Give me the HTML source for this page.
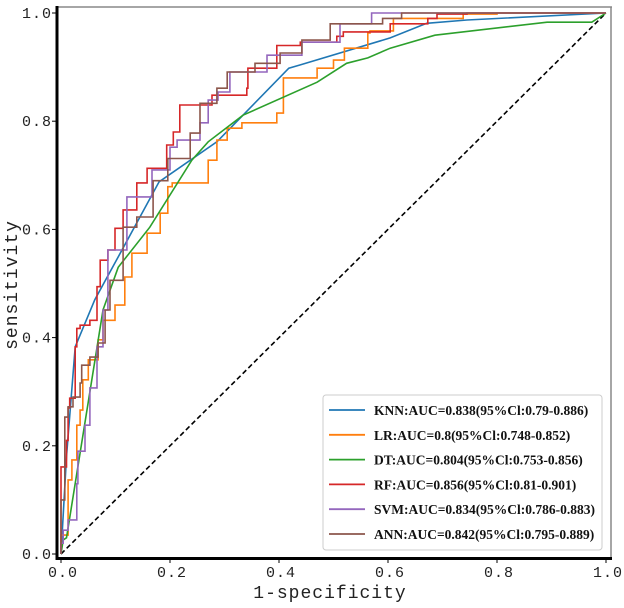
<!DOCTYPE html>
<html><head><meta charset="utf-8"><style>
html,body{margin:0;padding:0;background:#fff;}
svg{display:block;}
.tk{font-family:"Liberation Mono",monospace;font-size:15px;fill:#222;letter-spacing:1px;}
.lg{font-family:"Liberation Serif",serif;font-size:13.5px;font-weight:bold;fill:#111;}
</style></head><body>
<svg id="chart" width="624" height="608" viewBox="0 0 624 608"></svg>
<script>
const names=["KNN:AUC=0.838(95%Cl:0.79-0.886)","LR:AUC=0.8(95%Cl:0.748-0.852)","DT:AUC=0.804(95%Cl:0.753-0.856)","RF:AUC=0.856(95%Cl:0.81-0.901)","SVM:AUC=0.834(95%Cl:0.786-0.883)","ANN:AUC=0.842(95%Cl:0.795-0.889)"];
const colors=["#1f77b4","#ff7f0e","#2ca02c","#d62728","#9467bd","#8c564b"];
const stepped=[false,true,false,true,true,true];
const ticks=[0,0.2,0.4,0.6,0.8,1.0];
const tickLabels=["0.0","0.2","0.4","0.6","0.8","1.0"];
const knnX=[0,0.01,0.026,0.062,0.1,0.18,0.286,0.334,0.418,0.439,0.604,0.671,0.745,1];
const knnY=[0,0.18,0.383,0.47,0.54,0.688,0.762,0.811,0.898,0.904,0.954,0.981,0.987,1];
const lrX=[0,0.013,0.02,0.029,0.035,0.04,0.05,0.068,0.077,0.099,0.117,0.13,0.158,0.182,0.196,0.204,0.218,0.27,0.286,0.305,0.332,0.396,0.408,0.47,0.5,0.52,0.563,0.567,0.61,0.61,0.738,0.8,1];
const lrY=[0,0.035,0.137,0.174,0.238,0.266,0.322,0.359,0.396,0.432,0.46,0.512,0.556,0.593,0.63,0.679,0.686,0.686,0.728,0.765,0.787,0.797,0.815,0.88,0.898,0.913,0.935,0.963,0.967,0.98,0.99,0.998,1];
const dtX=[0,0.004,0.01,0.077,0.105,0.163,0.24,0.27,0.334,0.47,0.524,0.563,0.604,0.686,0.892,0.974,1];
const dtY=[0,0.026,0.03,0.451,0.53,0.604,0.728,0.762,0.811,0.872,0.907,0.917,0.935,0.959,0.983,0.983,1];
const rfX=[0,0,0.01,0.013,0.016,0.026,0.029,0.035,0.053,0.066,0.072,0.086,0.099,0.114,0.139,0.158,0.169,0.194,0.206,0.218,0.277,0.292,0.341,0.343,0.396,0.429,0.439,0.506,0.518,0.604,0.673,0.69,0.745,1];
const rfY=[0,0.152,0.161,0.21,0.27,0.288,0.383,0.417,0.423,0.432,0.494,0.543,0.562,0.602,0.636,0.686,0.713,0.713,0.756,0.78,0.83,0.848,0.848,0.861,0.898,0.94,0.94,0.946,0.957,0.965,0.98,0.99,0.998,1];
const svmX=[0,0.004,0.013,0.029,0.031,0.044,0.053,0.066,0.077,0.086,0.121,0.167,0.2,0.213,0.255,0.27,0.288,0.31,0.378,0.442,0.512,0.57,0.677,1];
const svmY=[0,0.02,0.044,0.063,0.13,0.19,0.238,0.307,0.383,0.451,0.562,0.66,0.71,0.752,0.765,0.797,0.839,0.854,0.891,0.922,0.946,0.98,1,1];
const annX=[0,0.007,0.007,0.013,0.022,0.035,0.038,0.053,0.068,0.081,0.09,0.114,0.139,0.169,0.196,0.237,0.255,0.286,0.305,0.356,0.402,0.442,0.494,0.59,0.625,0.714,1];
const annY=[0,0.1,0.229,0.253,0.272,0.29,0.316,0.349,0.364,0.39,0.451,0.506,0.604,0.623,0.69,0.731,0.778,0.833,0.861,0.891,0.907,0.926,0.95,0.98,0.99,1,1];
const seriesX=[knnX,lrX,dtX,rfX,svmX,annX];
const seriesY=[knnY,lrY,dtY,rfY,svmY,annY];

const NS="http://www.w3.org/2000/svg";
const svg=document.getElementById('chart');
const X0=61,X1=606,Y0=554,Y1=13;
const sx=v=>X0+(X1-X0)*v, sy=v=>Y0-(Y0-Y1)*v;
function mk(t,a,p){const e=document.createElementNS(NS,t);for(const k in a)e.setAttribute(k,a[k]);(p||svg).appendChild(e);return e;}

let e=mk('line',{x1:57,y1:7,x2:612,y2:7,stroke:'#888','stroke-width':1.5});


e=mk('line',{x1:611,y1:7,x2:611,y2:559,stroke:'#888','stroke-width':1.5});


e=mk('line',{x1:57,y1:6,x2:57,y2:560,stroke:'#000','stroke-width':3});


e=mk('line',{x1:56,y1:558.5,x2:612,y2:558.5,stroke:'#000','stroke-width':3});



ticks.forEach((t,i)=>{
  let a=mk('text',{x:52,y:sy(t)+5,'text-anchor':'end',class:'tk'});a.textContent=tickLabels[i];
  
  
  let b=mk('text',{x:sx(t)+2,y:577,'text-anchor':'middle',class:'tk'});b.textContent=tickLabels[i];
  
  
  let c=mk('line',{x1:sx(t),x2:sx(t),y1:559,y2:563,stroke:'#000'});
  
  
  let d=mk('line',{x1:52,x2:56,y1:sy(t),y2:sy(t),stroke:'#000'});
  
  
});
e=mk('text',{x:330,y:598,'text-anchor':'middle',class:'tk',style:'font-size:18px'});e.textContent='1-specificity';


e=mk('text',{x:0,y:0,'text-anchor':'middle',class:'tk',style:'font-size:18px',transform:'translate(17,285) rotate(-90)'});e.textContent='sensitivity';



e=mk('line',{x1:sx(0),y1:sy(0),x2:sx(1),y2:sy(1),stroke:'#000','stroke-width':1.6,'stroke-dasharray':'5,3'});



seriesX.forEach((xs,i)=>{
  const ys=seriesY[i];
  let d='M'+sx(xs[0]).toFixed(1)+' '+sy(ys[0]).toFixed(1);
  for(let j=1;j<xs.length;j++){
    if(stepped[i]) d+=' V'+sy(ys[j]).toFixed(1)+' H'+sx(xs[j]).toFixed(1);
    else d+=' L'+sx(xs[j]).toFixed(1)+' '+sy(ys[j]).toFixed(1);
  }
  const p=mk('path',{d:d,fill:'none',stroke:colors[i],'stroke-width':1.6});
  
  
});

const lg=mk('g',{});


e=mk('rect',{x:323,y:395,width:279,height:155,rx:3,fill:'#fff',stroke:'#ccc'},lg);


names.forEach((n,i)=>{
  const y=410+i*24.8;
  const l=mk('line',{x1:329,x2:365,y1:y,y2:y,stroke:colors[i],'stroke-width':1.8},lg);
  
  
  const t=mk('text',{x:374,y:y+5,class:'lg'},lg);t.textContent=n;
  
  
});
</script>
</body></html>
